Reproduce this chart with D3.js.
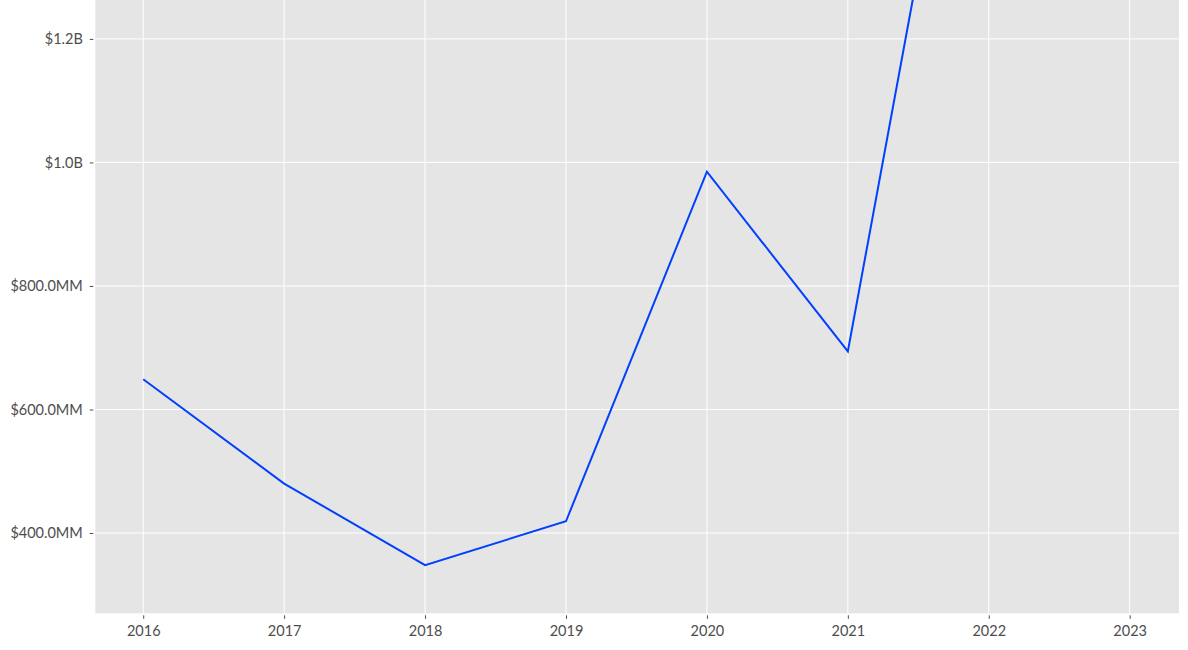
<!DOCTYPE html>
<html lang="en">
<head>
    <meta charset="UTF-8">
    <title>Line chart</title>
    <script src="https://d3js.org/d3.v7.min.js"></script>
    <style>
        body { margin: 0; background: #fff; }
        .tick text { font-family: "Lato", "DejaVu Sans", sans-serif; font-size: 14.5px; fill: #4d4d4d; }
        .domain { display: none; }
    </style>
</head>
<body>
    <script>
        // data
        const years = [2016, 2017, 2018, 2019, 2020, 2021, 2022];
        const values = [649e6, 480e6, 348e6, 419e6, 985e6, 694e6, 1930e6];
        const xTicks = [2016, 2017, 2018, 2019, 2020, 2021, 2022, 2023];
        const yTicks = [400e6, 600e6, 800e6, 1000e6, 1200e6];

        const svgWidth = 1188, svgHeight = 650;
        const plot = { left: 95.3, right: 1179, top: 0, bottom: 613.3 };

        const svg = d3.select("body").append("svg")
            .attr("width", svgWidth)
            .attr("height", svgHeight);

        const x = d3.scaleLinear().domain([2015.66, 2023.35]).range([plot.left, plot.right]);
        const y = d3.scaleLinear().domain([270e6, 1263e6]).range([plot.bottom, plot.top]);

        // background
        svg.append("rect")
            .attr("x", plot.left).attr("y", plot.top)
            .attr("width", plot.right - plot.left)
            .attr("height", plot.bottom - plot.top)
            .attr("fill", "#e5e5e5");

        // grid
        svg.append("g").selectAll("line")
            .data(xTicks).enter().append("line")
            .attr("x1", d => x(d)).attr("x2", d => x(d))
            .attr("y1", plot.top).attr("y2", plot.bottom)
            .attr("stroke", "#fff").attr("stroke-width", 1);
        svg.append("g").selectAll("line")
            .data(yTicks).enter().append("line")
            .attr("x1", plot.left).attr("x2", plot.right)
            .attr("y1", d => y(d)).attr("y2", d => y(d))
            .attr("stroke", "#fff").attr("stroke-width", 1);

        const fmt = v => v >= 1e9 ? "$" + (v / 1e9).toFixed(1) + "B" : "$" + (v / 1e6).toFixed(1) + "MM";

        // axes
        const xAxis = svg.append("g")
            .attr("transform", "translate(0," + (plot.bottom + 2) + ")")
            .call(d3.axisBottom(x).tickValues(xTicks).tickFormat(d3.format("d")).tickSize(3.5).tickPadding(7));
        xAxis.selectAll(".tick line").attr("stroke", "#4d4d4d");

        const yAxis = svg.append("g")
            .attr("transform", "translate(" + (plot.left - 2) + ",0)")
            .call(d3.axisLeft(y).tickValues(yTicks).tickFormat(fmt).tickSize(3.5).tickPadding(7));
        yAxis.selectAll(".tick line").attr("stroke", "#4d4d4d");

        // clip + line
        svg.append("clipPath").attr("id", "clip")
            .append("rect")
            .attr("x", plot.left).attr("y", plot.top)
            .attr("width", plot.right - plot.left)
            .attr("height", plot.bottom - plot.top);

        const line = d3.line()
            .x((d, i) => x(years[i]))
            .y(d => y(d));

        svg.append("path")
            .datum(values)
            .attr("clip-path", "url(#clip)")
            .attr("d", line)
            .attr("fill", "none")
            .attr("stroke", "#0040ff")
            .attr("stroke-width", 2);
    </script>
</body>
</html>
